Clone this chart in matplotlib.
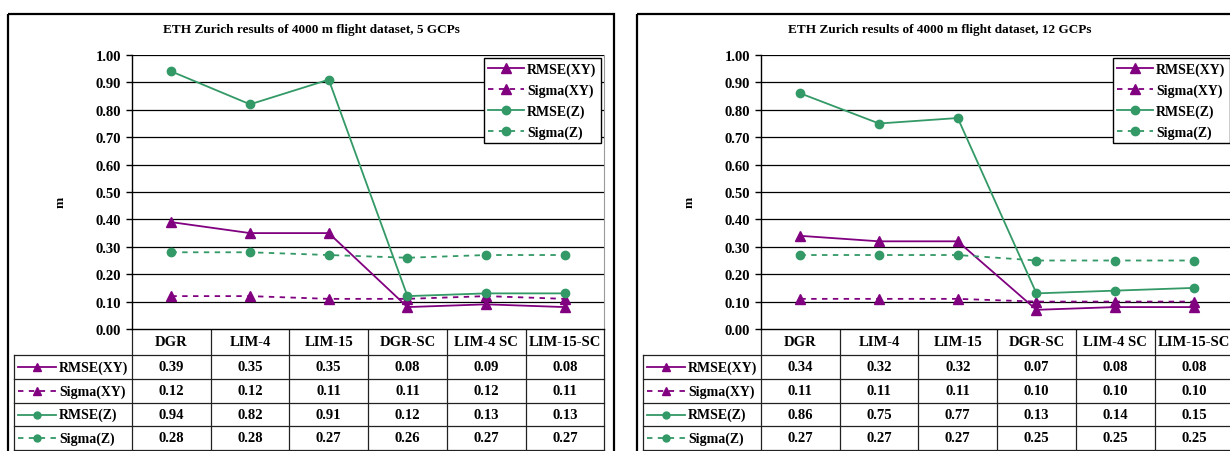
import matplotlib.pyplot as plt
from matplotlib.patches import Rectangle
import numpy as np

plt.rcParams['font.family'] = ['Liberation Serif', 'DejaVu Serif']
plt.rcParams['font.weight'] = 'bold'

categories = ['DGR', 'LIM-4', 'LIM-15', 'DGR-SC', 'LIM-4 SC', 'LIM-15-SC']
series_names = ['RMSE(XY)', 'Sigma(XY)', 'RMSE(Z)', 'Sigma(Z)']

# 5 GCPs
gcp5_rmse_xy = [0.39, 0.35, 0.35, 0.08, 0.09, 0.08]
gcp5_sigma_xy = [0.12, 0.12, 0.11, 0.11, 0.12, 0.11]
gcp5_rmse_z = [0.94, 0.82, 0.91, 0.12, 0.13, 0.13]
gcp5_sigma_z = [0.28, 0.28, 0.27, 0.26, 0.27, 0.27]

# 12 GCPs
gcp12_rmse_xy = [0.34, 0.32, 0.32, 0.07, 0.08, 0.08]
gcp12_sigma_xy = [0.11, 0.11, 0.11, 0.10, 0.10, 0.10]
gcp12_rmse_z = [0.86, 0.75, 0.77, 0.13, 0.14, 0.15]
gcp12_sigma_z = [0.27, 0.27, 0.27, 0.25, 0.25, 0.25]

titles = ['ETH Zurich results of 4000 m flight dataset, 5 GCPs',
          'ETH Zurich results of 4000 m flight dataset, 12 GCPs']

purple = '#800080'
green = '#339966'
styles = [
    dict(color=purple, ls='-', marker='^', ms=7),
    dict(color=purple, ls=(0, (3, 3)), marker='^', ms=7),
    dict(color=green, ls='-', marker='o', ms=6),
    dict(color=green, ls=(0, (3, 3)), marker='o', ms=6),
]

W, H = 1230, 452
fig = plt.figure(figsize=(W / 100, H / 100), dpi=100)
ov = fig.add_axes([0, 0, 1, 1])
ov.set_xlim(0, W)
ov.set_ylim(H, 0)
ov.axis('off')

FS = 10.5
y_top, y_bot = 56, 330
row_y = [330, 356, 380, 404, 427, 451]
col_w = 78.7


def panel(x0, title, data):
    ov.add_patch(Rectangle((x0, 15), 606, 460, fill=False, ec='black', lw=1.6))
    ax_l = x0 + 124
    ax = fig.add_axes([ax_l / W, (H - y_bot) / H, 6 * col_w / W, (y_bot - y_top) / H])
    ax.set_xlim(-0.5, 5.5)
    ax.set_ylim(0, 1)
    yt = np.arange(0, 1.01, 0.1)
    ax.set_yticks(yt)
    ax.set_yticklabels(['%.2f' % v for v in yt], fontsize=FS, fontweight='bold')
    ax.set_xticks([])
    for v in yt[1:]:
        ax.axhline(v, color='black', lw=0.9, zorder=1)
    ax.spines['top'].set_visible(False)
    ax.spines['right'].set_color('#999999')
    ax.spines['left'].set_linewidth(1.0)
    ax.spines['bottom'].set_linewidth(1.0)
    ax.tick_params(axis='y', length=4, width=1, pad=4)
    x = np.arange(len(categories))
    for name, vals, st in zip(series_names, data, styles):
        ax.plot(x, vals, lw=1.3, label=name, zorder=3, **st)
    ax.legend(loc='upper left', bbox_to_anchor=(x0 + 476, 59),
              bbox_transform=ov.transData, fancybox=False, edgecolor='black',
              framealpha=1, borderaxespad=0, borderpad=0.3, handlelength=2.6,
              handletextpad=0.2, labelspacing=0.55, numpoints=1,
              prop=dict(size=FS - 0.5, weight='bold'))
    ov.text(x0 + 303, 30, title, ha='center', va='center', fontsize=FS - 1)
    ov.text(x0 + 53, 202, 'm', ha='center', va='center', rotation=90, fontsize=FS - 1)

    # data table
    tl = x0 + 6
    tr = ax_l + 6 * col_w
    for y in row_y[1:]:
        ov.plot([tl, tr], [y, y], color='#222222', lw=0.9)
    ov.plot([tl, tl], [row_y[1], row_y[-1]], color='#222222', lw=0.9)
    for i in range(7):
        xc = ax_l + i * col_w
        ov.plot([xc, xc], [row_y[0], row_y[-1]], color='#222222', lw=0.9)
    for i, c in enumerate(categories):
        ov.text(ax_l + (i + 0.5) * col_w, (row_y[0] + row_y[1]) / 2, c,
                ha='center', va='center', fontsize=FS)
    for r, (name, vals, st) in enumerate(zip(series_names, data, styles)):
        yc = (row_y[r + 1] + row_y[r + 2]) / 2
        ov.plot([tl + 4, tl + 42], [yc, yc], color=st['color'], ls=st['ls'], lw=1.3)
        ov.plot([tl + 23], [yc], color=st['color'], marker=st['marker'],
                ms=st['ms'] - 1)
        ov.text(tl + 45, yc, name, ha='left', va='center', fontsize=FS - 0.5)
        for i, v in enumerate(vals):
            ov.text(ax_l + (i + 0.5) * col_w, yc, '%.2f' % v,
                    ha='center', va='center', fontsize=FS)


panel(8, titles[0], [gcp5_rmse_xy, gcp5_sigma_xy, gcp5_rmse_z, gcp5_sigma_z])
panel(637, titles[1], [gcp12_rmse_xy, gcp12_sigma_xy, gcp12_rmse_z, gcp12_sigma_z])

fig.savefig('out.png', dpi=100)
